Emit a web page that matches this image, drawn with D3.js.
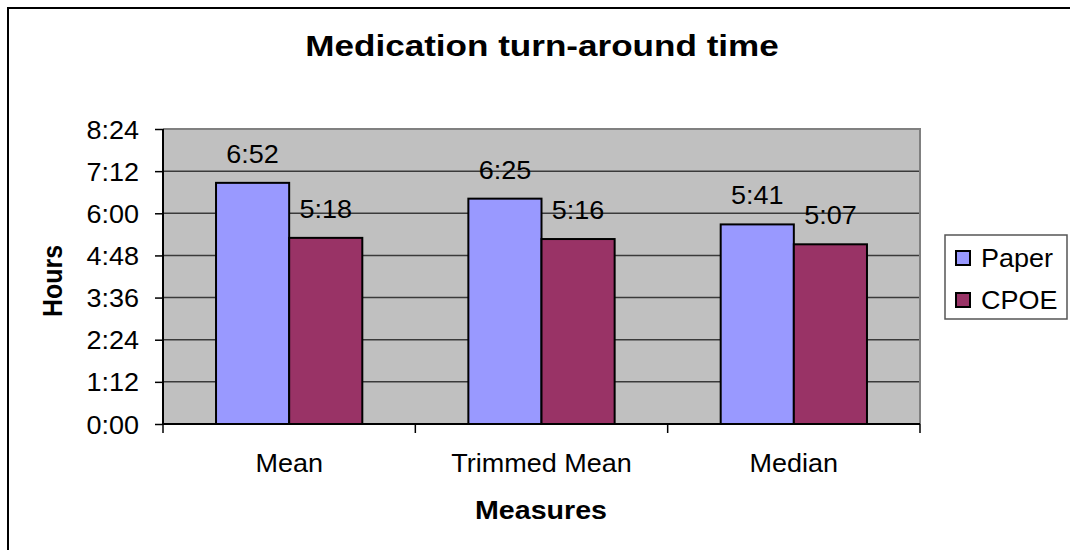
<!DOCTYPE html>
<html>
<head>
<meta charset="utf-8">
<script src="https://cdn.jsdelivr.net/npm/d3@7"></script>
<style>
  html, body { margin: 0; padding: 0; background: #fff; }
  svg { display: block; font-family: "Liberation Sans", Arial, sans-serif; }
</style>
</head>
<body>
<svg id="chart" width="1070" height="550"></svg>
<script>
// Turn-around times, in minutes
const categories = ["Mean", "Trimmed Mean", "Median"];
const seriesNames = ["Paper", "CPOE"];
const paperValues = [412, 385, 341];   // 6:52, 6:25, 5:41
const cpoeValues = [318, 316, 307];    // 5:18, 5:16, 5:07
const yTickValues = [0, 72, 144, 216, 288, 360, 432, 504];
const seriesColors = ["#9999FF", "#993366"];

const fmt = m => Math.floor(m / 60) + ":" + String(m % 60).padStart(2, "0");

const svg = d3.select("#chart");
const plot = { left: 163, right: 920, top: 129, bottom: 424 };
const SX = 1.08; // horizontal text stretch

// put text at (x, y) with a slight horizontal stretch
function place(sel, x, y, rot, k) {
  const s = k || SX;
  sel.attr("transform", `translate(${x},${y})` + (rot ? ` rotate(${rot})` : "") + ` scale(${rot ? 1 : s},${rot ? s : 1})`);
  return sel;
}

// outer frame
svg.append("line").attr("x1", 7).attr("x2", 1070).attr("y1", 8).attr("y2", 8)
  .attr("stroke", "#000").attr("stroke-width", 2);
svg.append("line").attr("x1", 8).attr("x2", 8).attr("y1", 7).attr("y2", 550)
  .attr("stroke", "#000").attr("stroke-width", 2);

const x = d3.scaleBand().domain(categories).range([plot.left, plot.right]).padding(0);
const xs = d3.scaleBand().domain(seriesNames).range([0, x.bandwidth()])
  .paddingInner(0).paddingOuter(0.725);
const y = d3.scaleLinear().domain([0, 504]).range([plot.bottom, plot.top]);

// plot background
svg.append("rect").attr("x", plot.left).attr("y", plot.top)
  .attr("width", plot.right - plot.left).attr("height", plot.bottom - plot.top)
  .attr("fill", "#C0C0C0");

// gridlines
svg.append("g").selectAll("line").data(yTickValues.filter(v => v > 0 && v < 504)).join("line")
  .attr("x1", plot.left).attr("x2", plot.right)
  .attr("y1", d => y(d)).attr("y2", d => y(d))
  .attr("stroke", "#3a3a3a").attr("stroke-width", 1.5);

// plot border (top / right)
svg.append("path")
  .attr("d", `M${plot.left},${plot.top}H${plot.right}V${plot.bottom}`)
  .attr("fill", "none").attr("stroke", "#808080").attr("stroke-width", 2);

// bars
const rows = categories.map((c, i) => ({ cat: c, vals: [paperValues[i], cpoeValues[i]] }));
const groups = svg.append("g").selectAll("g").data(rows).join("g")
  .attr("transform", d => `translate(${x(d.cat)},0)`);
groups.selectAll("rect").data(d => d.vals.map((v, j) => ({ s: seriesNames[j], v, j }))).join("rect")
  .attr("x", d => xs(d.s)).attr("width", xs.bandwidth())
  .attr("y", d => y(d.v)).attr("height", d => y(0) - y(d.v))
  .attr("fill", d => seriesColors[d.j]).attr("stroke", "#000").attr("stroke-width", 2);

// value labels
groups.each(function (d) {
  const g = d3.select(this);
  d.vals.forEach((v, j) => {
    const t = g.append("text").text(fmt(v))
      .attr("text-anchor", "middle").attr("font-size", 25).attr("fill", "#000");
    place(t, xs(seriesNames[j]) + xs.bandwidth() / 2, y(v) - 20);
  });
});

// y axis
const yAxis = d3.axisLeft(y).tickValues(yTickValues).tickFormat(fmt).tickSize(8).tickPadding(15);
const ya = svg.append("g").attr("transform", `translate(${plot.left},0)`).call(yAxis);
ya.select(".domain").attr("stroke", "#000").attr("stroke-width", 2).attr("d", `M0,${plot.top}V${plot.bottom}`);
ya.selectAll(".tick line").attr("stroke", "#000").attr("stroke-width", 1.5);
ya.selectAll(".tick text").attr("font-size", 25).attr("font-family", "'Liberation Sans', Arial, sans-serif")
  .attr("fill", "#000").attr("dy", null).attr("x", null)
  .each(function () {
    place(d3.select(this), -24, 9);
  });

// x axis
const xa = svg.append("g").attr("transform", `translate(0,${plot.bottom})`);
xa.append("line").attr("x1", plot.left).attr("x2", plot.right).attr("y1", 0).attr("y2", 0)
  .attr("stroke", "#000").attr("stroke-width", 2);
const bounds = categories.map(c => x(c)).concat([x(categories[categories.length - 1]) + x.bandwidth()]);
xa.selectAll("line.tk").data(bounds).join("line").attr("class", "tk")
  .attr("x1", d => d).attr("x2", d => d).attr("y1", 0).attr("y2", 9)
  .attr("stroke", "#000").attr("stroke-width", 1.5);
xa.selectAll("text").data(categories).join("text")
  .text(d => d).attr("text-anchor", "middle").attr("font-size", 25).attr("fill", "#000")
  .each(function (d) { place(d3.select(this), x(d) + x.bandwidth() / 2, 48); });

// titles
place(svg.append("text").text("Medication turn-around time")
  .attr("text-anchor", "middle").attr("font-size", 30).attr("font-weight", "bold"), 542, 56, 0, 1.17);
place(svg.append("text").text("Measures")
  .attr("text-anchor", "middle").attr("font-size", 26).attr("font-weight", "bold"), 541, 519, 0, 1.1);
place(svg.append("text").text("Hours")
  .attr("text-anchor", "middle").attr("font-size", 25).attr("font-weight", "bold"), 62, 281, -90);

// legend
const lg = svg.append("g").attr("transform", "translate(945,235)");
lg.append("rect").attr("width", 122).attr("height", 84)
  .attr("fill", "#fff").attr("stroke", "#555").attr("stroke-width", 1.5);
seriesNames.forEach((s, i) => {
  const yy = 23 + i * 42;
  lg.append("rect").attr("x", 11).attr("y", yy - 7).attr("width", 14).attr("height", 14)
    .attr("fill", seriesColors[i]).attr("stroke", "#000").attr("stroke-width", 2);
  place(lg.append("text").text(s).attr("font-size", 25).attr("fill", "#000"), 36, yy + 9);
});
</script>
</body>
</html>
